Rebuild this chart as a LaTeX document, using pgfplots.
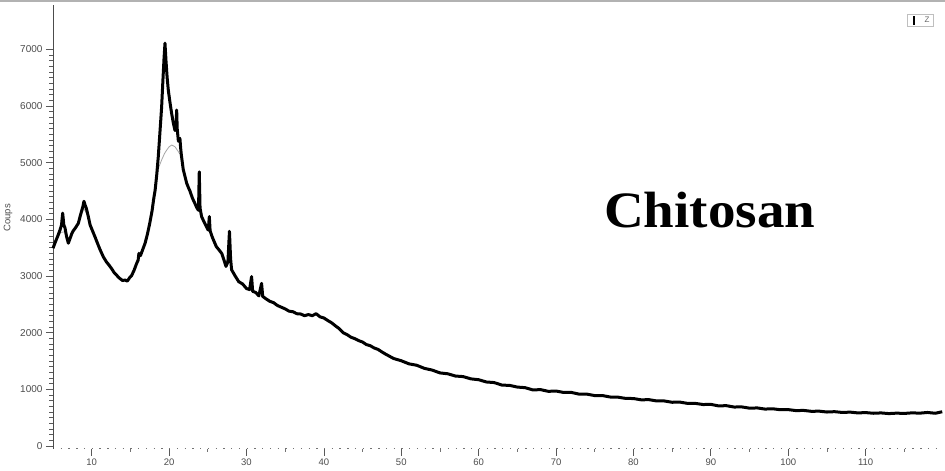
\documentclass[border=0pt]{standalone}
\usepackage{pgfplots}
\pgfplotsset{compat=1.18}
\usepackage{fontspec}
\setmainfont{Liberation Sans}
\newfontfamily\timesfont{Liberation Serif}
\begin{document}
\begin{tikzpicture}
\path[use as bounding box] (-53pt,-22.5pt) rectangle (892pt,448.5pt);
\begin{axis}[
  scale only axis,
  width=890pt, height=443.5pt,
  xmin=5, xmax=120, ymin=-44, ymax=7784,
  axis lines=left,
  x axis line style={-, draw=black!55, line width=1.3pt, dash pattern=on 1.3pt off 6.443pt},
  y axis line style={-, draw=black!70, line width=0.8pt},
  tick align=outside,
  xtick={10,20,...,110},
  ytick={0,1000,...,7000},
  minor y tick num=9,
  major tick length=7pt,
  minor tick length=3.5pt,
  tick style={black!65, line width=0.7pt},
  minor y tick style={black!65, line width=0.7pt},
  extra x ticks={15,25,...,115},
  extra x tick labels={},
  extra x tick style={major tick length=3pt, tick style={black!55, line width=0.8pt}},
  xticklabel style={font=\fontsize{9.5}{9.5}\selectfont, text=black!70},
  yticklabel style={font=\fontsize{10}{10}\selectfont, text=black!70},
  /pgf/number format/assume math mode=true,
  /pgf/number format/1000 sep={},
  ylabel={Coups},
  ylabel style={font=\fontsize{9.5}{9.5}\selectfont, text=black!70, at={(axis description cs:-0.0506,0.52)}, anchor=center},
  clip=false,
]
% gray background/fit curve
\addplot[black!35, line width=0.8pt] coordinates {
(5.0,3490) (5.5,3650) (6.0,3770) (6.5,3780) (7.0,3600) (7.5,3760) (8.0,3870) (8.5,4030) (9.0,4190) (9.5,4060) (10.0,3830)
};
\addplot[black!35, line width=0.8pt] coordinates {
(17.5,3930) (18.0,4340) (18.4,4760) (18.7,4930) (19.04,5050) (19.4,5160) (19.7,5225) (20.0,5280) (20.33,5313) (20.76,5283) (21.2,5195) (21.6,5110) (22.0,4780) (22.5,4560)
};
% measured pattern
\addplot[black, line width=3pt, line join=round] coordinates {
(5.0,3490) (5.3,3600) (5.6,3700) (5.9,3810) (6.1,3900) (6.25,4110) (6.4,3900) (6.55,3850) (6.75,3700) (6.98,3580)
(7.2,3660) (7.4,3740) (7.62,3800) (7.9,3850) (8.27,3930) (8.5,4050) (8.7,4150) (8.85,4220) (9.0,4320) (9.15,4250)
(9.3,4200) (9.56,4050) (9.8,3900) (10.1,3800) (10.43,3690) (10.8,3560) (11.1,3460) (11.5,3340) (11.9,3250) (12.2,3200)
(12.58,3130) (12.9,3060) (13.2,3020) (13.44,2980) (13.7,2950) (14.0,2920) (14.3,2930) (14.6,2910) (14.9,2970) (15.17,3010)
(15.5,3110) (15.8,3220) (16.0,3280) (16.1,3400) (16.3,3360) (16.6,3470) (16.9,3580) (17.2,3740) (17.5,3930) (17.8,4150)
(18.0,4350) (18.2,4520) (18.4,4780) (18.6,5100) (18.8,5500) (19.04,5990) (19.2,6450) (19.35,6850) (19.47,7110) (19.6,6800)
(19.75,6500) (19.9,6280) (20.1,6080) (20.33,5870) (20.55,5700) (20.76,5570) (20.9,5650) (20.98,5930) (21.05,5600) (21.2,5380)
(21.4,5430) (21.5,5250) (21.6,5120) (21.83,4880) (22.05,4760) (22.27,4640) (22.5,4560) (22.7,4500) (23.0,4380) (23.34,4280)
(23.6,4200) (23.8,4160) (23.9,4840) (24.0,4200) (24.2,4050) (24.5,3960) (24.8,3880) (25.06,3810) (25.2,4050) (25.3,3800)
(25.6,3680) (26.1,3520) (26.4,3470) (26.8,3400) (27.1,3280) (27.35,3170) (27.6,3250) (27.8,3790) (27.95,3300) (28.08,3110)
(28.5,3010) (29.0,2900) (29.5,2860) (30.0,2780) (30.4,2760) (30.66,2990) (30.8,2730) (31.2,2710) (31.6,2650) (31.95,2870)
(32.1,2640) (32.5,2600) (33.0,2555) (33.5,2530) (34.0,2480) (34.5,2450) (35.0,2420) (35.5,2380) (36.0,2370) (36.5,2335)
(37.0,2330) (37.5,2300) (38.0,2320) (38.5,2300) (39.0,2335) (39.5,2280) (40.0,2260) (40.5,2215) (41.0,2175) (41.5,2120)
(42.0,2070) (42.5,2000) (43.0,1965) (43.5,1920) (44.0,1895) (44.5,1860) (45.0,1835) (45.5,1790) (46.0,1770) (46.5,1730)
(47.0,1705) (47.5,1660) (48,1620) (49,1545) (50,1505) (51,1450) (52,1425) (53,1370) (54,1340) (55,1290)
(56,1275) (57,1235) (58,1225) (59,1185) (60,1170) (61,1130) (62,1120) (63,1075) (64,1070) (65,1040)
(66,1030) (67,990) (68,995) (69,965) (70,970) (71,945) (72,945) (73,915) (74,915) (75,890)
(76,890) (77,865) (78,862) (79,840) (80,838) (81,815) (82,818) (83,795) (84,795) (85,772)
(86,775) (87,752) (88,752) (89,732) (90,735) (91,708) (92,712) (93,688) (94,690) (95,668)
(96,672) (97,652) (98,657) (99,640) (100,642) (101,625) (102,628) (103,612) (104,615) (105,600)
(106,606) (107,592) (108,598) (109,584) (110,590) (111,578) (112,584) (113,572) (114,580) (115,575)
(116,585) (117,580) (118,592) (119,578) (119.9,605)
};
\node[anchor=base, inner sep=0pt, xscale=1.08] at (axis cs:89.85,3848) {\timesfont\bfseries\fontsize{51}{51}\selectfont Chitosan};
\end{axis}
% top border and small legend box
\draw[black!30, line width=2pt] (-53pt,447.5pt) -- (892pt,447.5pt);
\draw[black!25, line width=0.5pt] (854pt,422pt) rectangle (880pt,434pt);
\fill[black] (860pt,423.5pt) rectangle (862pt,432pt);
\node[inner sep=0pt, text=black!60] at (874pt,429pt) {\fontsize{8}{8}\selectfont Z};
\end{tikzpicture}
\end{document}
